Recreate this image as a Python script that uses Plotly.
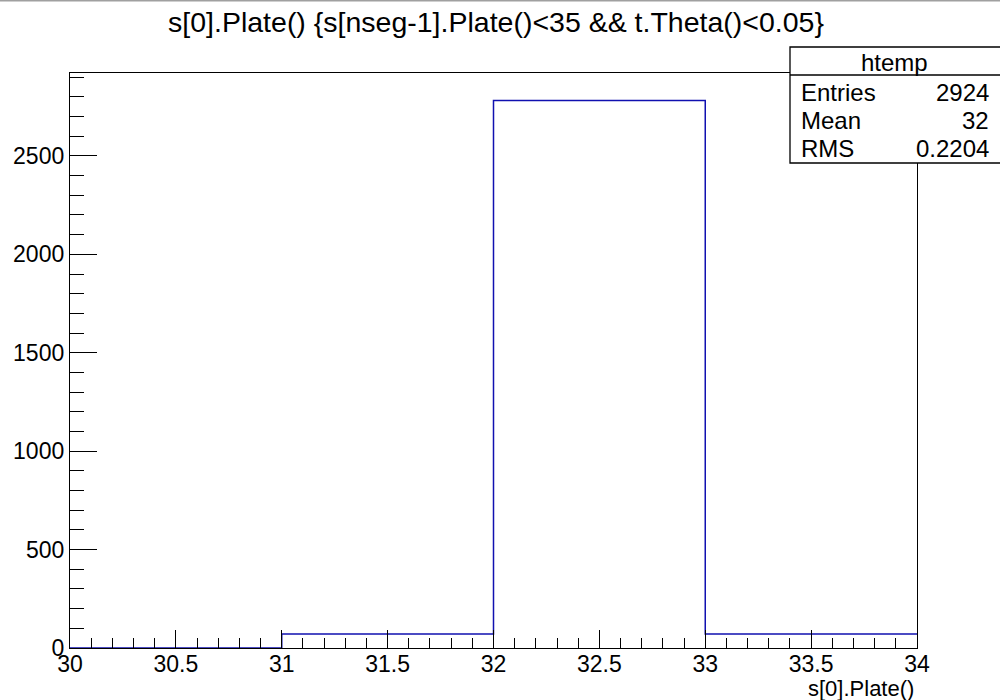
import plotly.graph_objects as go

# Data
bin_edges = [30, 31, 32, 33, 34]
counts = [0, 71, 2782, 71]
title_text = "s[0].Plate() {s[nseg-1].Plate()<35 && t.Theta()<0.05}"
x_title = "s[0].Plate()"
stats_name = "htemp"
stats_labels = ["Entries", "Mean", "RMS"]
stats_values = ["2924", "32", "0.2204"]

# Layout geometry (pixels)
W, H = 1000, 700
L, R, T, B = 70, 917, 73, 648

def fx(px):
    return (px - L) / (R - L)

def fy(py):
    return (B - py) / (B - T)

FONT = "Liberation Sans, Arial, Helvetica, sans-serif"

step_x = list(bin_edges)
step_y = list(counts) + [counts[-1]]

fig = go.Figure()
fig.add_trace(go.Scatter(
    x=step_x, y=step_y, mode="lines", line=dict(color="#1010b0", width=1.5, shape="hv"),
    hoverinfo="skip", showlegend=False,
))

fig.update_layout(
    width=W, height=H,
    margin=dict(l=L, r=W - R, t=T, b=H - B, pad=0),
    paper_bgcolor="white", plot_bgcolor="white",
    font=dict(family=FONT, color="black"),
    title=dict(text=title_text, x=0.496, xanchor="center", y=1 - 22 / H, yanchor="middle",
               font=dict(size=28.5, family=FONT, color="black")),
    showlegend=False,
)
fig.update_xaxes(
    range=[30, 34], dtick=0.5, tick0=30, showgrid=False, zeroline=False,
    showline=True, linecolor="black", linewidth=1.3, mirror=True, layer="above traces",
    ticks="inside", ticklen=18, tickcolor="black", tickwidth=1,
    tickfont=dict(size=23, family=FONT, color="black"),
    ticklabelstandoff=-5,
    minor=dict(dtick=0.1, ticks="inside", ticklen=10, tickcolor="black", tickwidth=1, showgrid=False),
)
fig.update_yaxes(
    range=[0, 1.05 * max(counts)], dtick=500, tick0=0, showgrid=False, zeroline=False,
    showline=True, linecolor="black", linewidth=1.3, mirror=True, layer="above traces",
    ticks="inside", ticklen=27, tickcolor="black", tickwidth=1,
    tickfont=dict(size=23, family=FONT, color="black"),
    minor=dict(dtick=100, ticks="inside", ticklen=14, tickcolor="black", tickwidth=1, showgrid=False),
)

# x-axis title, right aligned
fig.add_annotation(text=x_title, xref="paper", yref="paper", x=fx(916), y=fy(689),
                   xanchor="right", yanchor="middle", showarrow=False,
                   font=dict(size=22, family=FONT, color="black"))

# Stats box
bx0, bx1, by0, by1, bsep = 790, 1001, 47, 163, 75
fig.add_shape(type="rect", xref="paper", yref="paper", x0=fx(bx0), x1=fx(bx1), y0=fy(by1), y1=fy(by0),
              line=dict(color="black", width=1.3), fillcolor="white", layer="above")
fig.add_shape(type="line", xref="paper", yref="paper", x0=fx(bx0), x1=fx(bx1), y0=fy(bsep), y1=fy(bsep),
              line=dict(color="black", width=1.3), layer="above")
fig.add_annotation(text=stats_name, xref="paper", yref="paper", x=fx(894), y=fy(62),
                   xanchor="center", yanchor="middle", showarrow=False,
                   font=dict(size=24, family=FONT, color="black"))
row_y = [92, 120, 148]
for lab, val, yy in zip(stats_labels, stats_values, row_y):
    fig.add_annotation(text=lab, xref="paper", yref="paper", x=fx(799), y=fy(yy),
                       xanchor="left", yanchor="middle", showarrow=False,
                       font=dict(size=24, family=FONT, color="black"))
    fig.add_annotation(text=val, xref="paper", yref="paper", x=fx(991), y=fy(yy),
                       xanchor="right", yanchor="middle", showarrow=False,
                       font=dict(size=24, family=FONT, color="black"))

# gray top border of the canvas
fig.add_shape(type="line", xref="paper", yref="paper", x0=fx(0), x1=fx(W), y0=fy(0.5), y1=fy(0.5),
              line=dict(color="#a0a0a0", width=2), layer="above")

fig.write_html("out.html")
